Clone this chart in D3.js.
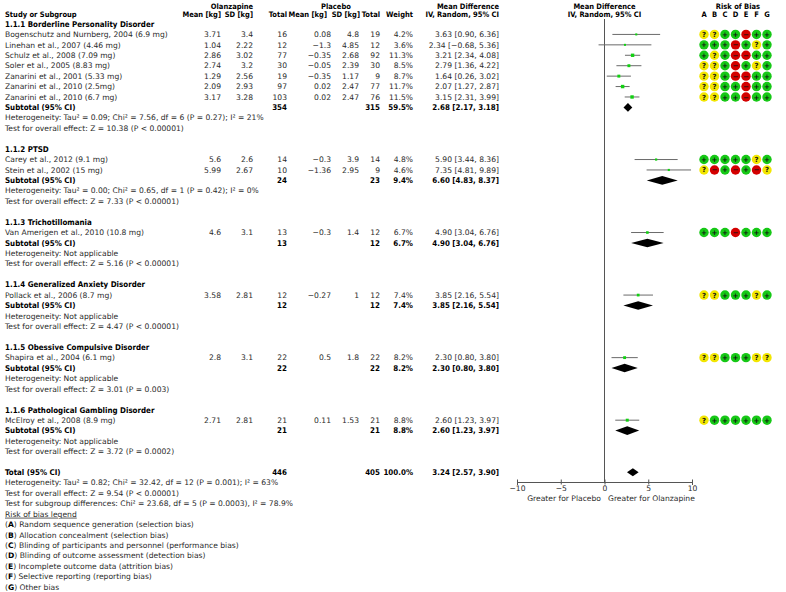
<!doctype html>
<html lang="en">
<head>
<meta charset="utf-8">
<script src="https://cdnjs.cloudflare.com/ajax/libs/d3/7.8.5/d3.min.js"></script>
<style>
  body { margin: 0; background: #fff; }
  svg text { font-family: 'DejaVu Sans', sans-serif; font-size: 7.6px; fill: #2a2a2a; }
  svg text.b { font-family: 'DejaVu Sans Condensed', 'DejaVu Sans', sans-serif; font-stretch: condensed; font-weight: bold; font-size: 7.9px; fill: #000; }
  svg text.b.hd { font-size: 7.5px; }
  #axis text { font-size: 7.6px; fill: #2a2a2a; }
  #axis path, #axis line { stroke: #555; }
</style>
</head>
<body>
<script>

// Studies
const studyNames = [
  "Bogenschutz and Nurnberg, 2004 (6.9 mg)",
  "Linehan et al., 2007 (4.46 mg)",
  "Schulz et al., 2008 (7.09 mg)",
  "Soler et al., 2005 (8.83 mg)",
  "Zanarini et al., 2001 (5.33 mg)",
  "Zanarini et al., 2010 (2.5mg)",
  "Zanarini et al., 2010 (6.7 mg)",
  "Carey et al., 2012 (9.1 mg)",
  "Stein et al., 2002 (15 mg)",
  "Van Amerigen et al., 2010 (10.8 mg)",
  "Pollack et al., 2006 (8.7 mg)",
  "Shapira et al., 2004 (6.1 mg)",
  "McElroy et al., 2008 (8.9 mg)"
];
const studyGroup = [0, 0, 0, 0, 0, 0, 0, 1, 1, 2, 3, 4, 5];
const olzMean = [3.71, 1.04, 2.86, 2.74, 1.29, 2.09, 3.17, 5.6, 5.99, 4.6, 3.58, 2.8, 2.71];
const olzSD = [3.4, 2.22, 3.02, 3.2, 2.56, 2.93, 3.28, 2.6, 2.67, 3.1, 2.81, 3.1, 2.81];
const olzN = [16, 12, 77, 30, 19, 97, 103, 14, 10, 13, 12, 22, 21];
const plcMean = [0.08, -1.3, -0.35, -0.05, -0.35, 0.02, 0.02, -0.3, -1.36, -0.3, -0.27, 0.5, 0.11];
const plcSD = [4.8, 4.85, 2.68, 2.39, 1.17, 2.47, 2.47, 3.9, 2.95, 1.4, 1, 1.8, 1.53];
const plcN = [19, 12, 92, 30, 9, 77, 76, 14, 9, 12, 12, 22, 21];
const weights = [4.2, 3.6, 11.3, 8.5, 8.7, 11.7, 11.5, 4.8, 4.6, 6.7, 7.4, 8.2, 8.8];
const md = [3.63, 2.34, 3.21, 2.79, 1.64, 2.07, 3.15, 5.90, 7.35, 4.90, 3.85, 2.30, 2.60];
const ciLow = [0.90, -0.68, 2.34, 1.36, 0.26, 1.27, 2.31, 3.44, 4.81, 3.04, 2.16, 0.80, 1.23];
const ciHigh = [6.36, 5.36, 4.08, 4.22, 3.02, 2.87, 3.99, 8.36, 9.89, 6.76, 5.54, 3.80, 3.97];
const riskOfBias = [
  "??++-++", "+++-+?+", "+?+--++", "??+-+?+", "??+--++", "??++-++", "??++-++",
  "+++++?+", "?-+-+-?", "+++-+++", "??+++?+", "??+++??", "?++++++"
];

// Subgroups
const groupNames = [
  "1.1.1 Borderline Personality Disorder", "1.1.2 PTSD", "1.1.3 Trichotillomania",
  "1.1.4 Generalized Anxiety Disorder", "1.1.5 Obessive Compulsive Disorder",
  "1.1.6 Pathological Gambling Disorder"
];
const groupOlzN = [354, 24, 13, 12, 22, 21];
const groupPlcN = [315, 23, 12, 12, 22, 21];
const groupWeight = [59.5, 9.4, 6.7, 7.4, 8.2, 8.8];
const groupMD = [2.68, 6.60, 4.90, 3.85, 2.30, 2.60];
const groupLow = [2.17, 4.83, 3.04, 2.16, 0.80, 1.23];
const groupHigh = [3.18, 8.37, 6.76, 5.54, 3.80, 3.97];
const groupHet = [
  "Heterogeneity: Tau² = 0.09; Chi² = 7.56, df = 6 (P = 0.27); I² = 21%",
  "Heterogeneity: Tau² = 0.00; Chi² = 0.65, df = 1 (P = 0.42); I² = 0%",
  "Heterogeneity: Not applicable", "Heterogeneity: Not applicable",
  "Heterogeneity: Not applicable", "Heterogeneity: Not applicable"
];
const groupTest = [
  "Test for overall effect: Z = 10.38 (P < 0.00001)",
  "Test for overall effect: Z = 7.33 (P < 0.00001)",
  "Test for overall effect: Z = 5.16 (P < 0.00001)",
  "Test for overall effect: Z = 4.47 (P < 0.00001)",
  "Test for overall effect: Z = 3.01 (P = 0.003)",
  "Test for overall effect: Z = 3.72 (P = 0.0002)"
];

// Overall
const totalOlzN = 446, totalPlcN = 405, totalWeight = 100.0;
const totalMD = 3.24, totalLow = 2.57, totalHigh = 3.90;
const totalNotes = [
  "Heterogeneity: Tau² = 0.82; Chi² = 32.42, df = 12 (P = 0.001); I² = 63%",
  "Test for overall effect: Z = 9.54 (P < 0.00001)",
  "Test for subgroup differences: Chi² = 23.68, df = 5 (P = 0.0003), I² = 78.9%"
];
const axisTicks = [-10, -5, 0, 5, 10];
const biasLetters = ["A", "B", "C", "D", "E", "F", "G"];
const biasLegend = [
  "Random sequence generation (selection bias)",
  "Allocation concealment (selection bias)",
  "Blinding of participants and personnel (performance bias)",
  "Blinding of outcome assessment (detection bias)",
  "Incomplete outcome data (attrition bias)",
  "Selective reporting (reporting bias)",
  "Other bias"
];

const w = 786, h = 592;
const svg = d3.select("body").append("svg").attr("width", w).attr("height", h);

// column positions (right edges)
const col = { name: 5, oM: 221, oS: 253, oN: 287, pM: 331, pS: 359, pN: 380, wt: 413, ci: 499 };

const fmt2 = d3.format(".2f");
const fmtW = d => d3.format(".1f")(d) + "%";
const num = d => String(d).replace("-", "\u2212");
const ciText = (m, l, u) => fmt2(m) + " [" + fmt2(l) + ", " + fmt2(u) + "]";

// build row list
const rows = [];
let r = 0;
groupNames.forEach((g, gi) => {
  rows.push({ type: "heading", idx: r++, g: gi });
  studyNames.forEach((s, si) => { if (studyGroup[si] === gi) rows.push({ type: "study", idx: r++, s: si }); });
  rows.push({ type: "subtotal", idx: r++, g: gi });
  rows.push({ type: "note", idx: r++, text: groupHet[gi] });
  rows.push({ type: "note", idx: r++, text: groupTest[gi] });
  r++;
});
rows.push({ type: "total", idx: r++ });
totalNotes.forEach(t => rows.push({ type: "note", idx: r++, text: t }));
rows.push({ type: "legendTitle", idx: r++ });
biasLegend.forEach((t, i) => rows.push({ type: "legend", idx: r++, l: i }));

const y = d3.scaleLinear().domain([0, r - 1]).range([24, 587]);
const x = d3.scaleLinear().domain([-10, 10]).range([517, 692]);
const sq = d3.scaleSqrt().domain([0, 100]).range([0, 10]);
const biasX = d3.scalePoint().domain(biasLetters).range([704, 767]);
const biasColor = { "?": "#f2e600", "+": "#16c816", "-": "#d40000" };
const biasMark = { "?": "?", "+": "+", "-": "\u2212" };

function txt(xp, yp, t, anchor, bold) {
  return svg.append("text").attr("x", xp).attr("y", yp).attr("dy", "0.35em")
    .attr("text-anchor", anchor || "start").attr("class", bold ? "b" : null).text(t);
}
function hdr(xp, yp, t, anchor) {
  return txt(xp, yp, t, anchor, true).classed("hd", true);
}

// headers
hdr(232, 6, "Olanzapine", "middle");
hdr(336, 6, "Placebo", "middle");
hdr(468, 6, "Mean Difference", "middle");
hdr(x(0), 6, "Mean Difference", "middle");
hdr(738, 6, "Risk of Bias", "middle");
hdr(col.name, 14.5, "Study or Subgroup", "start");
hdr(col.oM, 14.5, "Mean [kg]", "end");
hdr(col.oS, 14.5, "SD [kg]", "end");
hdr(col.oN, 14.5, "Total", "end");
hdr(col.pM - 4, 14.5, "Mean [kg]", "end");
hdr(col.pS + 1, 14.5, "SD [kg]", "end");
hdr(col.pN, 14.5, "Total", "end");
hdr(col.wt, 14.5, "Weight", "end");
hdr(col.ci, 14.5, "IV, Random, 95% CI", "end");
hdr(x(0), 14.5, "IV, Random, 95% CI", "middle");
biasLetters.forEach(l => hdr(biasX(l), 14.5, l, "middle"));

// zero line
svg.append("line").attr("x1", x(0)).attr("x2", x(0)).attr("y1", 19).attr("y2", 482)
  .attr("stroke", "#555").attr("stroke-width", 1);

function diamond(m, l, u, yp, hh) {
  svg.append("path")
    .attr("d", `M${x(l)},${yp}L${x(m)},${yp - hh}L${x(u)},${yp}L${x(m)},${yp + hh}Z`)
    .attr("fill", "#000");
}

rows.forEach(row => {
  const yp = y(row.idx);
  if (row.type === "heading") {
    txt(col.name, yp, groupNames[row.g], "start", true);
  } else if (row.type === "study") {
    const i = row.s;
    txt(col.name, yp, studyNames[i]);
    txt(col.oM, yp, num(olzMean[i]), "end");
    txt(col.oS, yp, num(olzSD[i]), "end");
    txt(col.oN, yp, olzN[i], "end");
    txt(col.pM, yp, num(plcMean[i]), "end");
    txt(col.pS, yp, num(plcSD[i]), "end");
    txt(col.pN, yp, plcN[i], "end");
    txt(col.wt, yp, fmtW(weights[i]), "end");
    txt(col.ci, yp, ciText(md[i], ciLow[i], ciHigh[i]), "end");
    svg.append("line").attr("x1", x(ciLow[i])).attr("x2", x(ciHigh[i]))
      .attr("y1", yp).attr("y2", yp).attr("stroke", "#6a6a6a").attr("stroke-width", 1);
    const s = Math.max(2, sq(weights[i]));
    svg.append("rect").attr("x", x(md[i]) - s / 2).attr("y", yp - s / 2)
      .attr("width", s).attr("height", s).attr("fill", "#12d012");
    biasLetters.forEach((l, k) => {
      const c = riskOfBias[i][k];
      svg.append("circle").attr("cx", biasX(l)).attr("cy", yp).attr("r", 4.7).attr("fill", biasColor[c]);
      svg.append("text").attr("x", biasX(l)).attr("y", yp).attr("dy", "0.36em")
        .attr("text-anchor", "middle").style("font-size", "7px").style("font-weight", "bold")
        .style("fill", "#111").text(biasMark[c]);
    });
  } else if (row.type === "subtotal") {
    const g = row.g;
    txt(col.name, yp, "Subtotal (95% CI)", "start", true);
    txt(col.oN, yp, groupOlzN[g], "end", true);
    txt(col.pN, yp, groupPlcN[g], "end", true);
    txt(col.wt, yp, fmtW(groupWeight[g]), "end", true);
    txt(col.ci, yp, ciText(groupMD[g], groupLow[g], groupHigh[g]), "end", true);
    diamond(groupMD[g], groupLow[g], groupHigh[g], yp, 4.3);
  } else if (row.type === "note") {
    txt(col.name, yp, row.text);
  } else if (row.type === "total") {
    txt(col.name, yp, "Total (95% CI)", "start", true);
    txt(col.oN, yp, totalOlzN, "end", true);
    txt(col.pN, yp, totalPlcN, "end", true);
    txt(col.wt, yp, fmtW(totalWeight), "end", true);
    txt(col.ci, yp, ciText(totalMD, totalLow, totalHigh), "end", true);
    diamond(totalMD, totalLow, totalHigh, yp, 4);
  } else if (row.type === "legendTitle") {
    txt(col.name, yp, "Risk of bias legend").style("text-decoration", "underline");
  } else if (row.type === "legend") {
    const t = txt(col.name, yp, "");
    t.append("tspan").text("(");
    t.append("tspan").style("font-weight", "bold").style("fill", "#000").text(biasLetters[row.l]);
    t.append("tspan").text(") " + biasLegend[row.l]);
  }
});

// axis
const axisY = 482;
const axis = svg.append("g").attr("id", "axis").attr("transform", `translate(0,${axisY})`)
  .call(d3.axisBottom(x).tickValues(axisTicks).tickSizeOuter(0).tickSize(3)
    .tickFormat(d => num(d)));
axis.selectAll(".tick line").attr("y1", -2.5).attr("y2", 2.5);
axis.selectAll(".tick text").attr("y", 3.5).style("font-family", "'DejaVu Sans', sans-serif");
txt(x(0) - 3.5, 498, "Greater for Placebo", "end");
txt(x(0) + 3.5, 498, "Greater for Olanzapine", "start");

</script>
</body>
</html>
